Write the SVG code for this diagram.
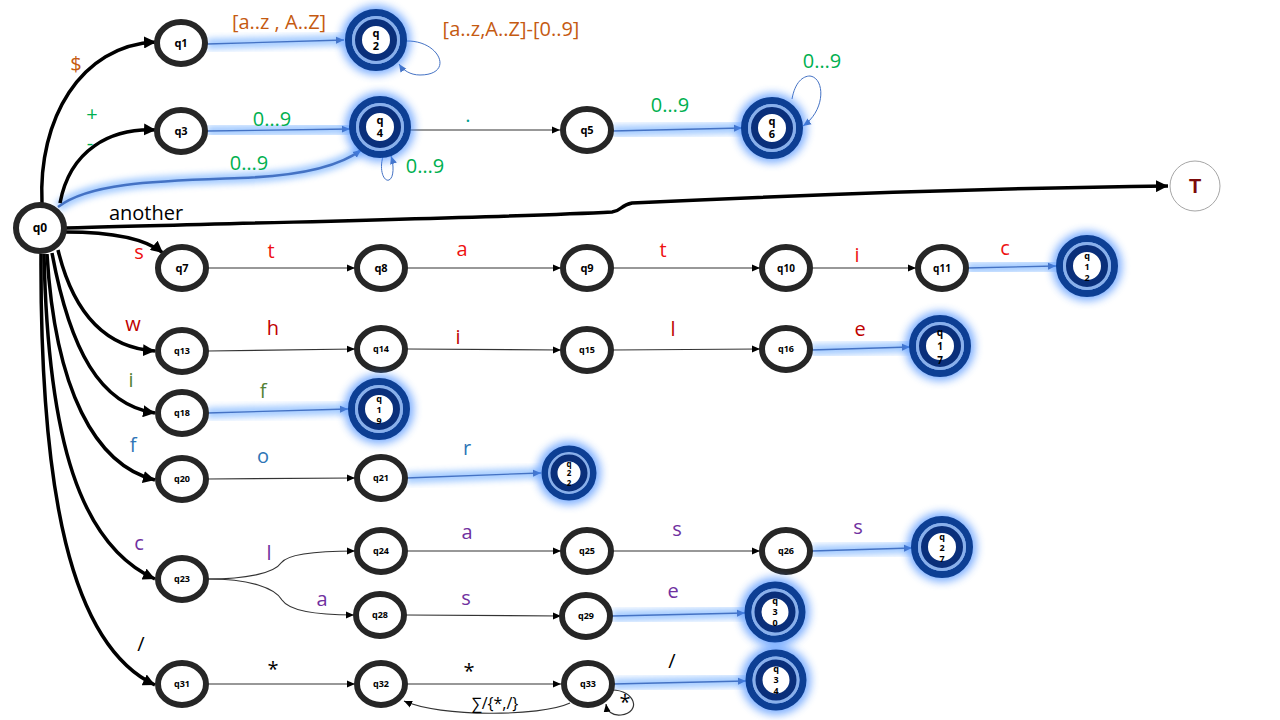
<svg xmlns="http://www.w3.org/2000/svg" width="1280" height="720" viewBox="0 0 1280 720">
<style>
.n ellipse{fill:#fff;stroke:#262626;stroke-width:6}
.n text{font-family:"Noto Sans",sans-serif;font-weight:700;font-size:11px;fill:#000;text-anchor:middle}
.n.s text{font-size:9px}
.f text{font-family:"Noto Sans",sans-serif;font-weight:700;font-size:10px;fill:#000;text-anchor:middle}
.f .o{fill:none;stroke:#0d3f94;stroke-width:7}
.f .m{fill:none;stroke:#8ab0ea;stroke-width:3}
.f .i{fill:#fff;stroke:#0a2f7a;stroke-width:7}
.f .g{fill:#3a86ff;opacity:.65;filter:url(#blur4)}
.thick{fill:none;stroke:#000;stroke-width:3.5;marker-end:url(#ab)}
.thin{fill:none;stroke:#333;stroke-width:1.2;marker-end:url(#as)}
.glow{fill:none;stroke:#6aaaff;stroke-width:11;opacity:.6;filter:url(#blur3)}
.core{fill:none;stroke:#4472c4;stroke-width:1.3;marker-end:url(#abl)}
.loop{fill:none;stroke:#4472c4;stroke-width:1;marker-end:url(#abl)}
.lbl{font-family:"Open Sans",sans-serif;font-size:20px;text-anchor:middle}
.or{fill:#c55a11}.gr{fill:#00b050}.rd{fill:#ee1111}.dr{fill:#c00000}.ol{fill:#548235}.bl{fill:#2e75b6}.pu{fill:#7030a0}.bk{fill:#000}.te{fill:#00a090}
</style>
<defs>
<filter id="blur3" x="-20%" y="-200%" width="140%" height="500%"><feGaussianBlur stdDeviation="3"/></filter>
<filter id="blur4" x="-50%" y="-50%" width="200%" height="200%"><feGaussianBlur stdDeviation="4.5"/></filter>
<marker id="ab" markerWidth="14" markerHeight="12" refX="12" refY="6" orient="auto" markerUnits="userSpaceOnUse"><path d="M0,0 L12,6 L0,12 z" fill="#000"/></marker>
<marker id="as" markerWidth="9" markerHeight="8" refX="8" refY="4" orient="auto" markerUnits="userSpaceOnUse"><path d="M0,0.5 L8,4 L0,7.5 z" fill="#000"/></marker>
<marker id="abl" markerWidth="9" markerHeight="8" refX="8" refY="4" orient="auto" markerUnits="userSpaceOnUse"><path d="M0,0.5 L8,4 L0,7.5 z" fill="#4472c4"/></marker>
</defs>
<rect width="1280" height="720" fill="#fff"/>

<g id="connectors">
<path class="glow" d="M207,44 L344,40"/>
<path class="glow" d="M207,131 L350,129"/>
<path class="glow" d="M58,207 C90,182 160,181 240,178 C300,176 340,166 361,150"/>
<path class="glow" d="M612,131 L742,128"/>
<path class="glow" d="M967,268 L1056,266"/>
<path class="glow" d="M811,350 L910,347"/>
<path class="glow" d="M207,413 L348,409"/>
<path class="glow" d="M406,478 L541,473"/>
<path class="glow" d="M812,551 L912,548"/>
<path class="glow" d="M612,616 L745,613"/>
<path class="glow" d="M613,684 L746,681"/>
<path class="core" d="M207,44 L344,40"/>
<path class="core" d="M207,131 L350,129"/>
<path class="core" style="stroke-width:2.5" d="M58,207 C90,182 160,181 240,178 C300,176 340,166 361,150"/>
<path class="core" d="M612,131 L742,128"/>
<path class="core" d="M967,268 L1056,266"/>
<path class="core" d="M811,350 L910,347"/>
<path class="core" d="M207,413 L348,409"/>
<path class="core" d="M406,478 L541,473"/>
<path class="core" d="M812,551 L912,548"/>
<path class="core" d="M612,616 L745,613"/>
<path class="core" d="M613,684 L746,681"/>
<path class="loop" d="M406,41 C440,40 455,75 420,75 C410,75 403,70 399,64"/>
<path class="loop" d="M384,153 C378,170 384,182 389,180 C394,178 394,165 391,156"/>
<path class="loop" d="M792,99 C795,82 803,76 810,76 C825,78 826,110 803,126"/>
<path class="thick" d="M42,203 C38,120 80,45 156,42"/>
<path class="thick" d="M60,203 C70,150 110,128 156,130"/>
<path class="thick" d="M66,228 C200,224 500,218 612,212 C622,211 620,205 632,203 C800,195 1000,188 1168,186"/>
<path class="thick" d="M65,232 C110,232 145,238 163,253"/>
<path class="thick" d="M58,250 C75,320 110,348 155,351"/>
<path class="thick" d="M52,253 C70,350 100,405 155,413"/>
<path class="thick" d="M47,254 C55,390 95,465 155,480"/>
<path class="thick" d="M44,254 C48,440 80,545 155,579"/>
<path class="thick" d="M41,254 C40,490 70,645 155,685"/>
<path class="thin" d="M409,130 L560,130"/>
<path class="thin" d="M208,268 L355,268"/>
<path class="thin" d="M407,268 L561,268"/>
<path class="thin" d="M613,268 L760,268"/>
<path class="thin" d="M812,268 L916,268"/>
<path class="thin" d="M208,351 L355,349"/>
<path class="thin" d="M407,349 L561,350"/>
<path class="thin" d="M613,350 L760,349"/>
<path class="thin" d="M208,479 L355,478"/>
<path class="thin" d="M208,579 C250,579 275,572 281,563 C288,553 320,551 355,551"/>
<path class="thin" d="M208,579 C250,579 275,588 282,600 C290,612 325,615 354,615"/>
<path class="thin" d="M407,551 L561,551"/>
<path class="thin" d="M613,551 L760,551"/>
<path class="thin" d="M406,615 L561,616"/>
<path class="thin" d="M208,684 L355,684"/>
<path class="thin" d="M407,684 L561,684"/>
<path class="thin" d="M570,703 C540,717 440,717 404,701"/>
<path class="thin" d="M612,690 C635,690 642,712 621,715 C612,716 607,711 606,704"/>
</g>

<g id="labels">
<text class="lbl or" x="76" y="71">$</text>
<text class="lbl gr" x="92" y="121">+</text>
<text class="lbl gr" x="90" y="150">-</text>
<text class="lbl or" x="279" y="29">[a..z , A..Z]</text>
<text class="lbl or" x="511" y="36">[a..z,A..Z]-[0..9]</text>
<text class="lbl gr" x="272" y="126">0…9</text>
<text class="lbl gr" x="249" y="170">0…9</text>
<text class="lbl gr" x="425" y="173">0…9</text>
<text class="lbl te" x="468" y="122">.</text>
<text class="lbl gr" x="670" y="112">0…9</text>
<text class="lbl gr" x="822" y="68">0…9</text>
<text class="lbl bk" x="146" y="220">another</text>
<text class="lbl rd" x="139" y="259">s</text>
<text class="lbl rd" x="271" y="258">t</text>
<text class="lbl rd" x="462" y="256">a</text>
<text class="lbl rd" x="663" y="257">t</text>
<text class="lbl rd" x="857" y="262">i</text>
<text class="lbl rd" x="1005" y="255">c</text>
<text class="lbl dr" x="133" y="331">w</text>
<text class="lbl dr" x="273" y="335">h</text>
<text class="lbl dr" x="458" y="344">i</text>
<text class="lbl dr" x="673" y="336">l</text>
<text class="lbl dr" x="860" y="336">e</text>
<text class="lbl ol" x="131" y="387">i</text>
<text class="lbl ol" x="263" y="398">f</text>
<text class="lbl bl" x="133" y="452">f</text>
<text class="lbl bl" x="263" y="463">o</text>
<text class="lbl bl" x="467" y="455">r</text>
<text class="lbl pu" x="139" y="550">c</text>
<text class="lbl pu" x="269" y="560">l</text>
<text class="lbl pu" x="322" y="606">a</text>
<text class="lbl pu" x="467" y="539">a</text>
<text class="lbl pu" x="677" y="536">s</text>
<text class="lbl pu" x="858" y="534">s</text>
<text class="lbl pu" x="466" y="605">s</text>
<text class="lbl pu" x="673" y="598">e</text>
<text class="lbl bk" x="141" y="651">/</text>
<text class="lbl bk" x="273" y="676">*</text>
<text class="lbl bk" x="469" y="678">*</text>
<text class="lbl bk" x="672" y="668">/</text>
<text class="lbl bk" x="495" y="709" style="font-size:16px">∑/{*,/}</text>
<text class="lbl bk" x="625" y="709">*</text>
</g>

<g id="q0" class="n"><ellipse cx="40" cy="228" rx="24" ry="23"/><text x="40" y="232" style="font-size:12px">q0</text></g>
<g id="q1" class="n"><ellipse cx="181" cy="43" rx="24" ry="21"/><text x="181" y="47">q1</text></g>
<g id="q3" class="n"><ellipse cx="181" cy="131" rx="24" ry="21"/><text x="181" y="135">q3</text></g>
<g id="q5" class="n"><ellipse cx="587" cy="130" rx="24" ry="21"/><text x="587" y="134">q5</text></g>
<g id="q7" class="n"><ellipse cx="182" cy="268" rx="24" ry="21"/><text x="182" y="272">q7</text></g>
<g id="q8" class="n"><ellipse cx="381" cy="268" rx="24" ry="21"/><text x="381" y="272">q8</text></g>
<g id="q9" class="n"><ellipse cx="587" cy="268" rx="24" ry="21"/><text x="587" y="272">q9</text></g>
<g id="q10" class="n"><ellipse cx="786" cy="268" rx="24" ry="21"/><text x="786" y="272" style="font-size:10px">q10</text></g>
<g id="q11" class="n"><ellipse cx="942" cy="268" rx="24" ry="21"/><text x="942" y="272" style="font-size:10px">q11</text></g>
<g id="q13" class="n s"><ellipse cx="182" cy="351" rx="24" ry="21"/><text x="182" y="354">q13</text></g>
<g id="q14" class="n s"><ellipse cx="381" cy="349" rx="24" ry="21"/><text x="381" y="352">q14</text></g>
<g id="q15" class="n s"><ellipse cx="587" cy="350" rx="24" ry="21"/><text x="587" y="353">q15</text></g>
<g id="q16" class="n s"><ellipse cx="786" cy="349" rx="24" ry="21"/><text x="786" y="352">q16</text></g>
<g id="q18" class="n s"><ellipse cx="182" cy="413" rx="24" ry="21"/><text x="182" y="416">q18</text></g>
<g id="q20" class="n s"><ellipse cx="182" cy="479" rx="24" ry="21"/><text x="182" y="482">q20</text></g>
<g id="q21" class="n s"><ellipse cx="381" cy="478" rx="24" ry="21"/><text x="381" y="481">q21</text></g>
<g id="q23" class="n s"><ellipse cx="182" cy="579" rx="24" ry="21"/><text x="182" y="582">q23</text></g>
<g id="q24" class="n s"><ellipse cx="381" cy="551" rx="24" ry="21"/><text x="381" y="554">q24</text></g>
<g id="q25" class="n s"><ellipse cx="587" cy="551" rx="24" ry="21"/><text x="587" y="554">q25</text></g>
<g id="q26" class="n s"><ellipse cx="786" cy="551" rx="24" ry="21"/><text x="786" y="554">q26</text></g>
<g id="q28" class="n s"><ellipse cx="380" cy="615" rx="24" ry="21"/><text x="380" y="618">q28</text></g>
<g id="q29" class="n s"><ellipse cx="586" cy="616" rx="24" ry="21"/><text x="586" y="619">q29</text></g>
<g id="q31" class="n s"><ellipse cx="182" cy="684" rx="24" ry="21"/><text x="182" y="687">q31</text></g>
<g id="q32" class="n s"><ellipse cx="381" cy="684" rx="24" ry="21"/><text x="381" y="687">q32</text></g>
<g id="q33" class="n s"><ellipse cx="588" cy="684" rx="24" ry="21"/><text x="588" y="687">q33</text></g>

<g id="q2" class="f"><circle class="g" cx="376" cy="40" r="35"/><circle class="o" cx="376" cy="40" r="27.5"/><circle class="m" cx="376" cy="40" r="22.5"/><circle class="i" cx="376" cy="40" r="17.5"/><text x="376" y="37" style="font-size:11px">q</text><text x="376" y="50" style="font-size:11px">2</text></g>
<g id="q4" class="f"><circle class="g" cx="380" cy="127" r="35"/><circle class="o" cx="380" cy="127" r="27.5"/><circle class="m" cx="380" cy="127" r="22.5"/><circle class="i" cx="380" cy="127" r="17.5"/><text x="380" y="124" style="font-size:11px">q</text><text x="380" y="137" style="font-size:11px">4</text></g>
<g id="q6" class="f"><circle class="g" cx="772" cy="128" r="35"/><circle class="o" cx="772" cy="128" r="27.5"/><circle class="m" cx="772" cy="128" r="22.5"/><circle class="i" cx="772" cy="128" r="17.5"/><text x="772" y="125" style="font-size:11px">q</text><text x="772" y="138" style="font-size:11px">6</text></g>
<g id="q12" class="f"><circle class="g" cx="1087" cy="266" r="35"/><circle class="o" cx="1087" cy="266" r="27.5"/><circle class="m" cx="1087" cy="266" r="22.5"/><circle class="i" cx="1087" cy="266" r="17.5"/><text x="1087" y="259" style="font-size:9px">q</text><text x="1087" y="270" style="font-size:9px">1</text><text x="1087" y="281" style="font-size:9px">2</text></g>
<g id="q17" class="f"><circle class="g" cx="940" cy="346" r="35"/><circle class="o" cx="940" cy="346" r="27.5"/><circle class="m" cx="940" cy="346" r="22.5"/><circle class="i" cx="940" cy="346" r="17.5"/><text x="940" y="336">q</text><text x="940" y="350">1</text><text x="940" y="364">7</text></g>
<g id="q19" class="f"><circle class="g" cx="379" cy="409" r="35"/><circle class="o" cx="379" cy="409" r="27.5"/><circle class="m" cx="379" cy="409" r="22.5"/><circle class="i" cx="379" cy="409" r="17.5"/><text x="379" y="402" style="font-size:9px">q</text><text x="379" y="413" style="font-size:9px">1</text><text x="379" y="424" style="font-size:9px">9</text></g>
<g id="q22" class="f"><circle class="g" cx="569" cy="473" r="32"/><circle class="o" cx="569" cy="473" r="24"/><circle class="m" cx="569" cy="473" r="19.5"/><circle class="i" cx="569" cy="473" r="15"/><text x="569" y="467" style="font-size:8px">q</text><text x="569" y="476" style="font-size:8px">2</text><text x="569" y="486" style="font-size:8px">2</text></g>
<g id="q27" class="f"><circle class="g" cx="942" cy="547" r="35"/><circle class="o" cx="942" cy="547" r="27.5"/><circle class="m" cx="942" cy="547" r="22.5"/><circle class="i" cx="942" cy="547" r="17.5"/><text x="942" y="540" style="font-size:9px">q</text><text x="942" y="551" style="font-size:9px">2</text><text x="942" y="562" style="font-size:9px">7</text></g>
<g id="q30" class="f"><circle class="g" cx="775" cy="612" r="35"/><circle class="o" cx="775" cy="612" r="27"/><circle class="m" cx="775" cy="612" r="22"/><circle class="i" cx="775" cy="612" r="17"/><text x="775" y="604" style="font-size:9px">q</text><text x="775" y="615" style="font-size:9px">3</text><text x="775" y="626" style="font-size:9px">0</text></g>
<g id="q34" class="f"><circle class="g" cx="776" cy="680" r="35"/><circle class="o" cx="776" cy="680" r="27"/><circle class="m" cx="776" cy="680" r="22"/><circle class="i" cx="776" cy="680" r="17"/><text x="776" y="672" style="font-size:9px">q</text><text x="776" y="683" style="font-size:9px">3</text><text x="776" y="694" style="font-size:9px">4</text></g>
<g id="T"><circle cx="1195" cy="186" r="25" fill="#fff" stroke="#a6a6a6" stroke-width="1"/><text x="1195" y="193" style="font-family:'Liberation Sans',sans-serif;font-size:20px;font-weight:700;fill:#7b0a0a;text-anchor:middle">T</text></g>
</svg>
